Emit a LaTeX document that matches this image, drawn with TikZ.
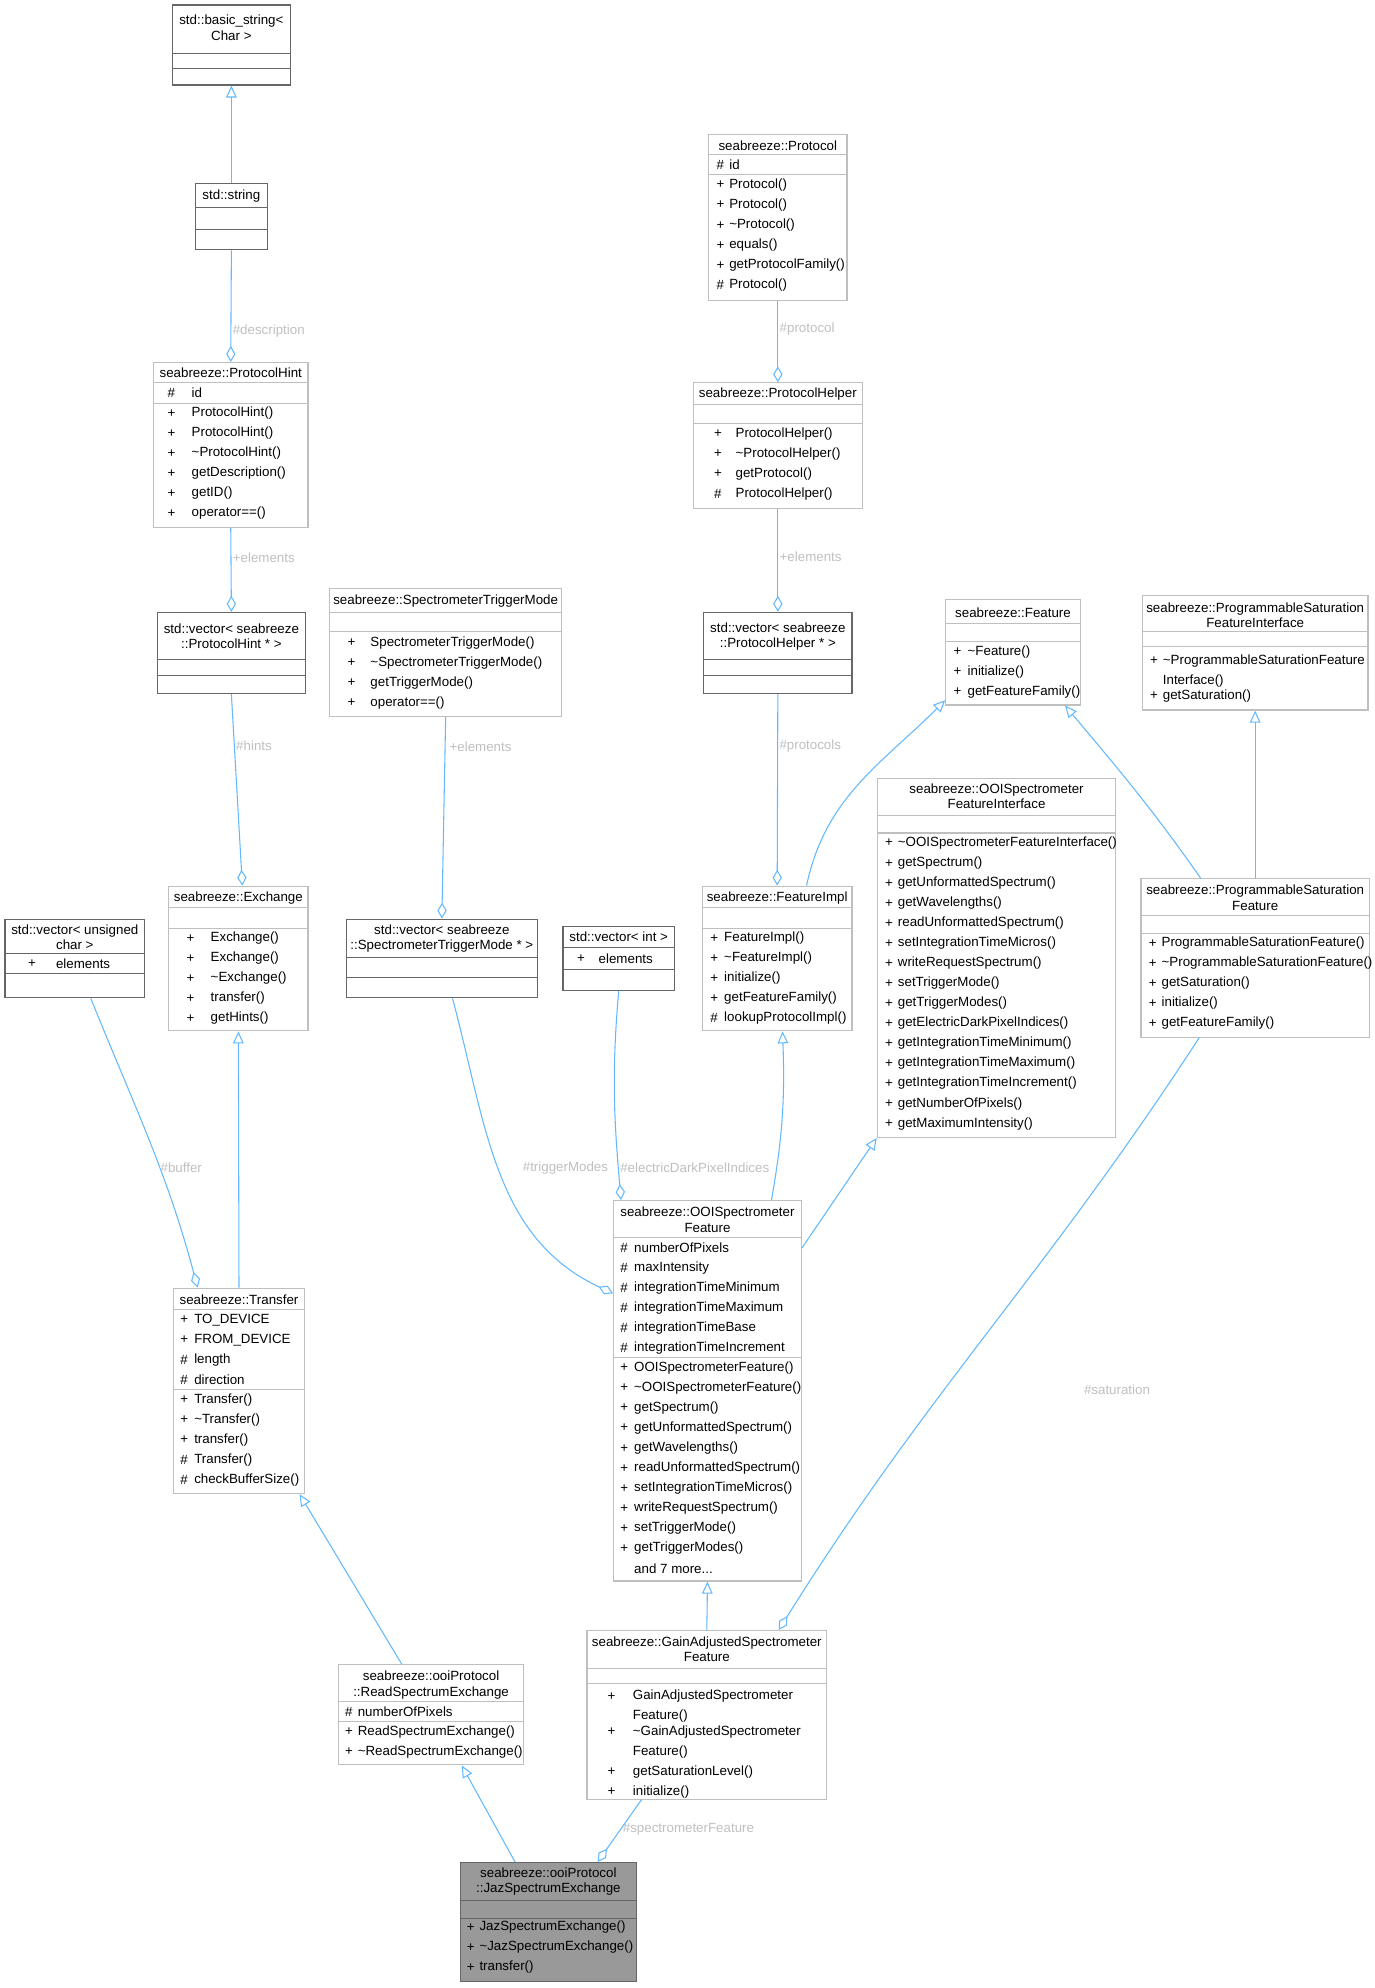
\documentclass[tikz,border=0pt]{standalone}
\usepackage{fontspec}
\setmainfont{Liberation Sans}
\usetikzlibrary{arrows.meta,fit}
\definecolor{edge}{HTML}{63B8FF}
\definecolor{dk}{HTML}{666666}
\definecolor{lt}{HTML}{BFBFBF}
\definecolor{lbl}{HTML}{BFBFBF}
\newcommand\tld{\textasciitilde{}}
\newcommand\tdots{.{}.{}.}
\newcommand\cls[6]{\node[fit={(#2,#3) (#4,#5)},inner sep=0pt,draw,#6] (#1) {};}
\newcommand\sep[3]{\draw[#3,line width=0.8pt] (#1.west |- 0,#2) -- (#1.east |- 0,#2);}
\newcommand\ttl[3]{\node[txt,align=center] at (#1.north |- 0,#2) {#3};}
\newcommand\mlist[4]{\foreach[count=\i] \ms/\mn in {#4}{%
  \node[txt,anchor=west] at (#1,{#3+(\i-1)*15.8}) {\ms};
  \node[txt,anchor=west] at (#2,{#3+(\i-1)*15.8}) {\mn};}}
\begin{document}
\begin{tikzpicture}[x=0.951pt,y=-0.951pt,
  txt/.style={inner sep=0pt,font=\fontsize{10}{11.5}\selectfont},
  dkb/.style={draw=dk,line width=0.9pt},
  ltb/.style={draw=lt,line width=0.9pt},
  inh/.style={draw=edge,line width=0.8pt,-{Triangle[open,length=9pt,width=8pt]}},
  agg/.style={draw=edge,line width=0.8pt,-{Diamond[open,length=12pt,width=7pt]}},
  elab/.style={inner sep=0pt,text=lbl,font=\fontsize{10}{11.5}\selectfont}]
\useasboundingbox (0,0) rectangle (1084.5,1568);
% basic_string
\cls{bs}{136}{4}{229}{67}{dkb}
\ttl{bs}{22}{std::basic\_string<\\Char >}
\sep{bs}{42}{dk}\sep{bs}{54}{dk}
% string
\cls{st}{154}{145}{211}{197}{dkb}
\ttl{st}{155}{std::string}
\sep{st}{164}{dk}\sep{st}{181}{dk}
% ProtocolHint
\cls{ph}{121}{286}{243}{416}{ltb}
\ttl{ph}{294}{seabreeze::ProtocolHint}
\sep{ph}{302}{lt}\sep{ph}{318}{lt}
\mlist{132}{151}{310}{\#/id}
\mlist{132}{151}{326}{+/ProtocolHint(),+/ProtocolHint(),+/\tld ProtocolHint(),+/getDescription(),+/getID(),+/operator==()}
% vector PH
\cls{vph}{124}{483}{241}{547}{dkb}
\ttl{vph}{502}{std::vector< seabreeze\\::ProtocolHint * >}
\sep{vph}{520}{dk}\sep{vph}{533}{dk}
% STM
\cls{stm}{260}{464}{443}{565}{ltb}
\ttl{stm}{474}{seabreeze::SpectrometerTriggerMode}
\sep{stm}{483}{lt}\sep{stm}{498}{lt}
\mlist{274}{292}{507}{+/SpectrometerTriggerMode(),+/\tld SpectrometerTriggerMode(),+/getTriggerMode(),+/operator==()}
% Exchange
\cls{ex}{133}{699}{243}{813}{ltb}
\ttl{ex}{708}{seabreeze::Exchange}
\sep{ex}{716}{lt}\sep{ex}{732}{lt}
\mlist{147}{166}{740}{+/Exchange(),+/Exchange(),+/\tld Exchange(),+/transfer(),+/getHints()}
% vector unsigned char
\cls{vuc}{4}{725}{114}{787}{dkb}
\ttl{vuc}{739}{std::vector< unsigned\\char >}
\sep{vuc}{752}{dk}\sep{vuc}{768}{dk}
\mlist{22}{44}{760}{+/elements}
% vector STM
\cls{vstm}{273}{725}{424}{787}{dkb}
\ttl{vstm}{740}{std::vector< seabreeze\\::SpectrometerTriggerMode * >}
\sep{vstm}{755}{dk}\sep{vstm}{771}{dk}
% vector int
\cls{vint}{444}{731}{532}{781}{dkb}
\ttl{vint}{739}{std::vector< int >}
\sep{vint}{747}{dk}\sep{vint}{765}{dk}
\mlist{455}{472}{756}{+/elements}
% Protocol
\cls{pr}{559}{106}{668}{237}{ltb}
\ttl{pr}{115}{seabreeze::Protocol}
\sep{pr}{122}{lt}\sep{pr}{138}{lt}
\mlist{565}{575}{130}{\#/id}
\mlist{565}{575}{146}{+/Protocol(),+/Protocol(),+/\tld Protocol(),+/equals(),+/getProtocolFamily(),\#/Protocol()}
% ProtocolHelper
\cls{phl}{547}{302}{680}{401}{ltb}
\ttl{phl}{311}{seabreeze::ProtocolHelper}
\sep{phl}{319}{lt}\sep{phl}{334}{lt}
\mlist{563}{580}{342}{+/ProtocolHelper(),+/\tld ProtocolHelper(),+/getProtocol(),\#/ProtocolHelper()}
% vector ProtocolHelper
\cls{vphl}{555}{483}{672}{547}{dkb}
\ttl{vphl}{502}{std::vector< seabreeze\\::ProtocolHelper * >}
\sep{vphl}{520}{dk}\sep{vphl}{533}{dk}
% Feature
\cls{fe}{746}{473}{852}{556}{ltb}
\ttl{fe}{483}{seabreeze::Feature}
\sep{fe}{492}{lt}\sep{fe}{506}{lt}
\mlist{752}{763}{514}{+/\tld Feature(),+/initialize(),+/getFeatureFamily()}
% PSFI
\cls{psfi}{901}{470}{1079}{560}{ltb}
\ttl{psfi}{485}{seabreeze::ProgrammableSaturation\\FeatureInterface}
\sep{psfi}{498}{lt}\sep{psfi}{510}{lt}
\mlist{907}{917}{521}{+/\tld ProgrammableSaturationFeature, /Interface()}
\mlist{907}{917}{549}{+/getSaturation()}
% OOIFI
\cls{oofi}{692}{614}{880}{897}{ltb}
\ttl{oofi}{628}{seabreeze::OOISpectrometer\\FeatureInterface}
\sep{oofi}{643}{lt}\sep{oofi}{657}{lt}
\mlist{698}{708}{665}{+/\tld OOISpectrometerFeatureInterface(),+/getSpectrum(),+/getUnformattedSpectrum(),+/getWavelengths(),+/readUnformattedSpectrum(),+/setIntegrationTimeMicros(),+/writeRequestSpectrum(),+/setTriggerMode(),+/getTriggerModes(),+/getElectricDarkPixelIndices(),+/getIntegrationTimeMinimum(),+/getIntegrationTimeMaximum(),+/getIntegrationTimeIncrement(),+/getNumberOfPixels(),+/getMaximumIntensity()}
% FeatureImpl
\cls{fi}{554}{699}{672}{813}{ltb}
\ttl{fi}{708}{seabreeze::FeatureImpl}
\sep{fi}{716}{lt}\sep{fi}{732}{lt}
\mlist{560}{571}{740}{+/FeatureImpl(),+/\tld FeatureImpl(),+/initialize(),+/getFeatureFamily(),\#/lookupProtocolImpl()}
% PSF
\cls{psf}{900}{693}{1080}{818}{ltb}
\ttl{psf}{708}{seabreeze::ProgrammableSaturation\\Feature}
\sep{psf}{722}{lt}\sep{psf}{736}{lt}
\mlist{906}{916}{744}{+/ProgrammableSaturationFeature(),+/\tld ProgrammableSaturationFeature(),+/getSaturation(),+/initialize(),+/getFeatureFamily()}
% OOISF
\cls{oosf}{484}{947}{632}{1247}{ltb}
\ttl{oosf}{962}{seabreeze::OOISpectrometer\\Feature}
\sep{oosf}{976}{lt}\sep{oosf}{1071}{lt}
\mlist{489}{500}{984}{\#/numberOfPixels,\#/maxIntensity,\#/integrationTimeMinimum,\#/integrationTimeMaximum,\#/integrationTimeBase,\#/integrationTimeIncrement}
\mlist{489}{500}{1079}{+/OOISpectrometerFeature(),+/\tld OOISpectrometerFeature(),+/getSpectrum(),+/getUnformattedSpectrum(),+/getWavelengths(),+/readUnformattedSpectrum(),+/setIntegrationTimeMicros(),+/writeRequestSpectrum(),+/setTriggerMode(),+/getTriggerModes(), /and 7 more\tdots}
% Transfer
\cls{tr}{137}{1016}{240}{1178}{ltb}
\ttl{tr}{1025}{seabreeze::Transfer}
\sep{tr}{1033}{lt}\sep{tr}{1096}{lt}
\mlist{142}{153}{1041}{+/TO\_DEVICE,+/FROM\_DEVICE,\#/length,\#/direction}
\mlist{142}{153}{1104}{+/Transfer(),+/\tld Transfer(),+/transfer(),\#/Transfer(),\#/checkBufferSize()}
% RSE
\cls{rse}{267}{1313}{413}{1392}{ltb}
\ttl{rse}{1329}{seabreeze::ooiProtocol\\::ReadSpectrumExchange}
\sep{rse}{1342}{lt}\sep{rse}{1358}{lt}
\mlist{272}{282}{1350}{\#/numberOfPixels}
\mlist{272}{282}{1366}{+/ReadSpectrumExchange(),+/\tld ReadSpectrumExchange()}
% GA
\cls{ga}{463}{1286}{652}{1419}{ltb}
\ttl{ga}{1301}{seabreeze::GainAdjustedSpectrometer\\Feature}
\sep{ga}{1316}{lt}\sep{ga}{1328}{lt}
\mlist{479}{499}{1338}{+/GainAdjustedSpectrometer, /Feature()}
\mlist{479}{499}{1366}{+/\tld GainAdjustedSpectrometer, /Feature(),+/getSaturationLevel(),+/initialize()}
% Jaz
\cls{jz}{363}{1469}{502}{1563}{dkb,fill=black!40}
\ttl{jz}{1484}{seabreeze::ooiProtocol\\::JazSpectrumExchange}
\sep{jz}{1499}{dk}\sep{jz}{1513}{dk}
\mlist{368}{378}{1520}{+/JazSpectrumExchange(),+/\tld JazSpectrumExchange(),+/transfer()}
% connectors
\draw[inh] (st.north) -- (bs.south);
\draw[agg] (st.south) -- node[elab,right,pos=0.72,xshift=1pt]{\#description} (ph.north);
\draw[agg] (ph.south) -- node[elab,right,pos=0.36,xshift=1pt]{+elements} (vph.north);
\draw[agg] (vph.south) -- node[elab,right,pos=0.27,xshift=1pt]{\#hints} ([xshift=3pt]ex.north);
\draw[agg] (stm.south) -- node[elab,right,pos=0.15,xshift=3pt]{+elements} (vstm.north);
\draw[agg] (pr.south) -- node[elab,right,pos=0.35,xshift=1pt]{\#protocol} (phl.north);
\draw[agg] (phl.south) -- node[elab,right,pos=0.46,xshift=1pt]{+elements} (vphl.north);
\draw[agg] (vphl.south) -- node[elab,right,pos=0.27,xshift=1pt]{\#protocols} (fi.north);
\draw[inh] ([xshift=22pt]fi.north) to[out=78,in=-135] ([yshift=4pt]fe.south west);
\draw[inh] ([xshift=-41pt]psf.north) to[out=125,in=-50] ([xshift=39pt]fe.south);
\draw[inh] (psf.north) -- (psfi.south);
\draw[agg] ([xshift=12pt]vuc.south) to[out=-68,in=105] ([xshift=-31pt]tr.north);
\node[elab] (lbuf) at (143,921) {\#buffer};
\draw[inh] (tr.north) -- (ex.south);
\draw[agg] ([xshift=8pt]vstm.south) to[out=-75,in=155] ([yshift=-70pt]oosf.north west);
\node[elab] (ltm) at (446,921) {\#triggerModes};
\draw[agg] (vint.south) to[out=-95,in=95] ([xshift=6pt]oosf.north west);
\node[elab] (ledp) at (548,921) {\#electricDarkPixelIndices};
\draw[inh] ([xshift=48pt]oosf.north) to[out=80,in=-88] ([xshift=4pt]fi.south);
\draw[inh] ([yshift=-36pt]oosf.north east) -- (oofi.south west);
\draw[inh] (ga.north) -- (oosf.south);
\draw[agg] ([xshift=-42pt]psf.south) to[out=-123,in=58] ([xshift=54pt]ga.north);
\node[elab] (lsat) at (881,1096) {\#saturation};
\draw[inh] ([xshift=-22pt]rse.north) -- ([xshift=-4pt]tr.south east);
\draw[inh] ([xshift=-25pt]jz.north) -- ([xshift=23pt]rse.south);
\draw[agg] ([xshift=-49pt]ga.south) -- ([xshift=37pt]jz.north);
\node[elab] (lsf) at (543,1443) {\#spectrometerFeature};
\end{tikzpicture}
\end{document}
